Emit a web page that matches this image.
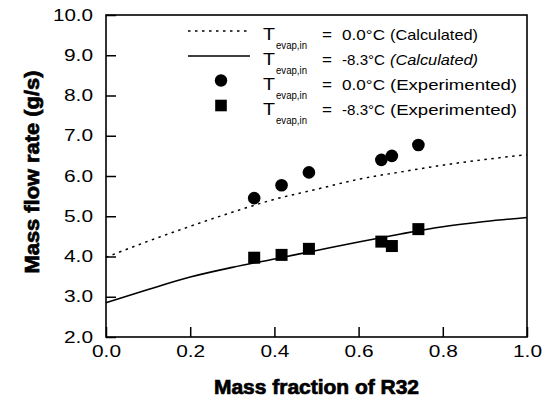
<!DOCTYPE html>
<html>
<head>
<meta charset="utf-8">
<script src="https://cdn.jsdelivr.net/npm/d3@7"></script>
<style>
  body { margin: 0; background: #fff; }
  svg { display: block; font-family: "Liberation Sans", Arial, sans-serif; }
</style>
</head>
<body>
<div id="chart"></div>
<script>
// measured points
const expFraction = [0.352, 0.417, 0.482, 0.654, 0.679, 0.742];
const expFlow00 = [5.45, 5.77, 6.09, 6.4, 6.5, 6.77];
const expFlow83 = [3.97, 4.04, 4.19, 4.37, 4.26, 4.68];

// calculated curves
const calcFraction = [0, 0.1, 0.2, 0.3, 0.4, 0.5, 0.6, 0.7, 0.8, 0.9, 1.0];
const calcFlow00 = [3.98, 4.38, 4.75, 5.1, 5.42, 5.67, 5.92, 6.1, 6.27, 6.41, 6.53];
const calcFlow83 = [2.85, 3.18, 3.49, 3.73, 3.94, 4.15, 4.36, 4.56, 4.74, 4.87, 4.97];

const xTicks = [0, 0.2, 0.4, 0.6, 0.8, 1.0];
const yTicks = [2, 3, 4, 5, 6, 7, 8, 9, 10];

const legendRows = [
  { value: "0.0°C", note: "(Calculated)", italic: false, kind: "dotted" },
  { value: "-8.3°C", note: "(Calculated)", italic: true, kind: "solid" },
  { value: "0.0°C", note: "(Experimented)", italic: false, kind: "circle" },
  { value: "-8.3°C", note: "(Experimented)", italic: false, kind: "square" },
];

const width = 548;
const height = 398;
const margin = { top: 15, right: 21, bottom: 61, left: 106 };

const x = d3
  .scaleLinear()
  .domain([0, 1])
  .range([margin.left, width - margin.right]);

const y = d3
  .scaleLinear()
  .domain([2, 10])
  .range([height - margin.bottom, margin.top]);

const svg = d3
  .select("#chart")
  .append("svg")
  .attr("width", width)
  .attr("height", height);

// axes, ticks pointing inward
const yAxisG = svg
  .append("g")
  .attr("transform", `translate(${margin.left},0)`)
  .call(
    d3
      .axisLeft(y)
      .tickValues(yTicks)
      .tickSizeInner(-10)
      .tickSizeOuter(0)
      .tickPadding(13)
      .tickFormat(d3.format(".1f"))
  );

yAxisG
  .selectAll("text")
  .attr("font-size", 16)
  .attr("font-family", null)
  .attr("fill", "#000")
  .attr("textLength", (d) => (d >= 10 ? 40 : 29))
  .attr("lengthAdjust", "spacingAndGlyphs");

const xAxisG = svg
  .append("g")
  .attr("transform", `translate(0,${height - margin.bottom})`)
  .call(
    d3
      .axisBottom(x)
      .tickValues(xTicks)
      .tickSizeInner(-10)
      .tickSizeOuter(0)
      .tickPadding(9)
      .tickFormat(d3.format(".1f"))
  );

xAxisG
  .selectAll("text")
  .attr("font-size", 16)
  .attr("font-family", null)
  .attr("fill", "#000")
  .attr("textLength", 29)
  .attr("lengthAdjust", "spacingAndGlyphs");

svg.selectAll(".domain").remove();
svg.selectAll(".tick line").attr("stroke", "#000").attr("stroke-width", 1.5);

svg
  .append("rect")
  .attr("x", margin.left)
  .attr("y", margin.top)
  .attr("width", width - margin.left - margin.right)
  .attr("height", height - margin.top - margin.bottom)
  .attr("fill", "none")
  .attr("stroke", "#000")
  .attr("stroke-width", 1.6);

// axis titles (heavy face in the scan)
svg
  .append("text")
  .attr("x", (margin.left + width - margin.right) / 2)
  .attr("y", 394)
  .attr("text-anchor", "middle")
  .attr("font-size", 20)
  .attr("font-weight", "bold")
  .attr("stroke", "#000")
  .attr("stroke-width", 0.7)
  .attr("textLength", 205)
  .attr("lengthAdjust", "spacingAndGlyphs")
  .text("Mass fraction of R32");

svg
  .append("text")
  .attr("transform", "translate(39,172) rotate(-90)")
  .attr("text-anchor", "middle")
  .attr("font-size", 20)
  .attr("font-weight", "bold")
  .attr("stroke", "#000")
  .attr("stroke-width", 0.7)
  .attr("textLength", 203)
  .attr("lengthAdjust", "spacingAndGlyphs")
  .text("Mass flow rate (g/s)");

// curves
const line = d3
  .line()
  .curve(d3.curveMonotoneX)
  .x((d) => x(d[0]))
  .y((d) => y(d[1]));

svg
  .append("path")
  .attr("d", line(d3.zip(calcFraction, calcFlow00)))
  .attr("fill", "none")
  .attr("stroke", "#000")
  .attr("stroke-width", 1.5)
  .attr("stroke-dasharray", "2.5,4.5");

svg
  .append("path")
  .attr("d", line(d3.zip(calcFraction, calcFlow83)))
  .attr("fill", "none")
  .attr("stroke", "#000")
  .attr("stroke-width", 1.6);

// experimental points
svg
  .append("g")
  .selectAll("circle")
  .data(d3.zip(expFraction, expFlow00))
  .join("circle")
  .attr("cx", (d) => x(d[0]))
  .attr("cy", (d) => y(d[1]))
  .attr("r", 6.3)
  .attr("fill", "#000");

const sq = 12;
svg
  .append("g")
  .selectAll("rect")
  .data(d3.zip(expFraction, expFlow83))
  .join("rect")
  .attr("x", (d) => x(d[0]) - sq / 2)
  .attr("y", (d) => y(d[1]) - sq / 2)
  .attr("width", sq)
  .attr("height", sq)
  .attr("fill", "#000");

// legend
const legendG = svg.append("g");
const rowG = legendG
  .selectAll("g")
  .data(legendRows)
  .join("g")
  .attr("transform", (d, i) => `translate(0,${40 + i * 25})`);

rowG
  .filter((d) => d.kind === "dotted" || d.kind === "solid")
  .append("line")
  .attr("x1", 188)
  .attr("x2", 250)
  .attr("y1", -9)
  .attr("y2", -9)
  .attr("stroke", "#000")
  .attr("stroke-width", (d) => (d.kind === "solid" ? 1.6 : 1.5))
  .attr("stroke-dasharray", (d) => (d.kind === "dotted" ? "2.5,4.5" : null));

rowG
  .filter((d) => d.kind === "circle")
  .append("circle")
  .attr("cx", 221)
  .attr("cy", -9.5)
  .attr("r", 6.2)
  .attr("fill", "#000");

rowG
  .filter((d) => d.kind === "square")
  .append("rect")
  .attr("x", 221 - 5.8)
  .attr("y", -9.5 - 5.8)
  .attr("width", 11.6)
  .attr("height", 11.6)
  .attr("fill", "#000");

rowG
  .append("text")
  .attr("x", 263)
  .attr("font-size", 16)
  .attr("textLength", 12)
  .attr("lengthAdjust", "spacingAndGlyphs")
  .text("T");

rowG
  .append("text")
  .attr("x", 276)
  .attr("y", 9)
  .attr("font-size", 10)
  .attr("textLength", 31)
  .attr("lengthAdjust", "spacingAndGlyphs")
  .text("evap,in");

rowG
  .append("text")
  .attr("x", 322)
  .attr("font-size", 14)
  .attr("textLength", 10)
  .attr("lengthAdjust", "spacingAndGlyphs")
  .text("=");

rowG
  .append("text")
  .attr("x", 342)
  .attr("font-size", 14.5)
  .attr("textLength", 43)
  .attr("lengthAdjust", "spacingAndGlyphs")
  .text((d) => d.value);

rowG
  .append("text")
  .attr("x", 390)
  .attr("font-size", 14.5)
  .attr("font-style", (d) => (d.italic ? "italic" : null))
  .attr("textLength", (d) => (d.note === "(Calculated)" ? 88 : 127))
  .attr("lengthAdjust", "spacingAndGlyphs")
  .text((d) => d.note);
</script>
</body>
</html>
